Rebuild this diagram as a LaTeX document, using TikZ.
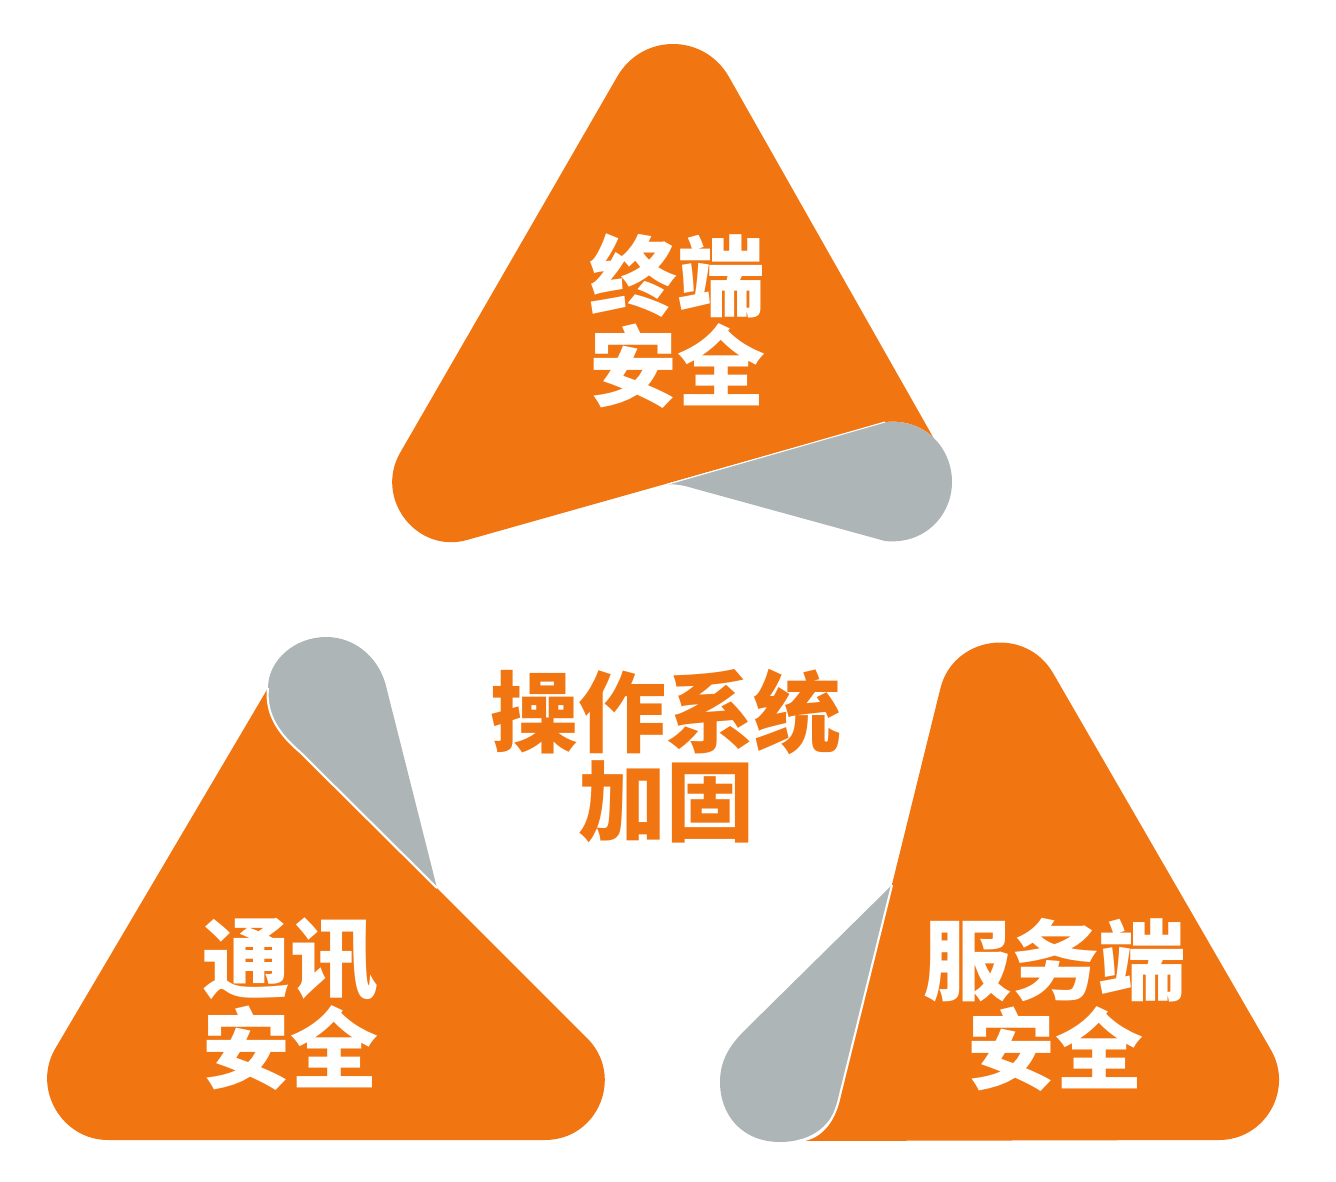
\documentclass[tikz,border=0pt]{standalone}
\usepackage{fontspec}
\newfontfamily\cjk{Noto Sans CJK SC}
\definecolor{tagorange}{RGB}{241,117,17}
\definecolor{taggray}{RGB}{173,181,183}

\begin{document}
\begin{tikzpicture}[x=0.01cm,y=-0.01cm,
    sheet/.style={fill=tagorange},
    flap/.style={fill=taggray},
    crease/.style={draw=white,line width=0.6pt},
    tagtext/.style={font=\cjk\bfseries\fontsize{25}{25.5}\selectfont,align=center,inner sep=0pt}]
    \useasboundingbox (0,0) rectangle (1336,1182);
    % top sheet, corner curled to the right
    \fill[flap] (665,485) -- (885,422) .. controls (925,418) and (952,448) .. (952,482)
        .. controls (952,515) and (925,545) .. (885,541) -- (685,486) .. controls (675,484) and (670,484) .. cycle;
    \fill[sheet] (400,453) -- (617,77) .. controls (642,33) and (704,33) .. (729,77) -- (933,437)
        .. controls (921,426) and (905,420) .. (885,422) -- (467,540) .. controls (417,554) and (374,499) .. cycle;
    \draw[crease,line width=0.3pt] (665,485) -- (885,422);
    % left sheet, top corner curled back
    \fill[flap] (437,888) -- (300,752) .. controls (280,735) and (265,715) .. (268,688)
        .. controls (268,660) and (295,637) .. (326,637) .. controls (357,637) and (381,660) .. (387,690) -- cycle;
    \fill[sheet] (437,888) -- (587,1038) .. controls (625,1076) and (598,1140) .. (545,1140) -- (108,1140)
        .. controls (62,1140) and (32,1089) .. (55,1049) -- (268,688) .. controls (265,715) and (280,735) .. (300,752) -- cycle;
    \draw[crease] (268,688) .. controls (265,715) and (280,735) .. (300,752) -- (437,888);
    % right sheet, left corner curled back
    \fill[flap] (892,885) -- (840,1095) .. controls (834,1125) and (812,1142) .. (780,1142)
        .. controls (742,1142) and (720,1115) .. (720,1082) .. controls (720,1060) and (730,1045) .. (745,1030) -- cycle;
    \fill[sheet] (940,690) .. controls (952,636) and (1025,625) .. (1053,673) -- (1271,1050)
        .. controls (1294,1090) and (1265,1140) .. (1219,1140) -- (797,1141) .. controls (818,1140) and (834,1125) .. (840,1095) -- cycle;
    \draw[crease] (892,885) -- (840,1095) .. controls (834,1125) and (818,1140) .. (797,1141);
    % labels
    \node[tagtext,white] (term) at (677,321) {终端\\安全};
    \node[tagtext,white] (comm) at (290,1004) {通讯\\安全};
    \node[tagtext,white] (serv) at (1055,1005) {服务端\\安全};
    \node[tagtext,tagorange] (core) at (666,756) {操作系统\\加固};
\end{tikzpicture}
\end{document}
